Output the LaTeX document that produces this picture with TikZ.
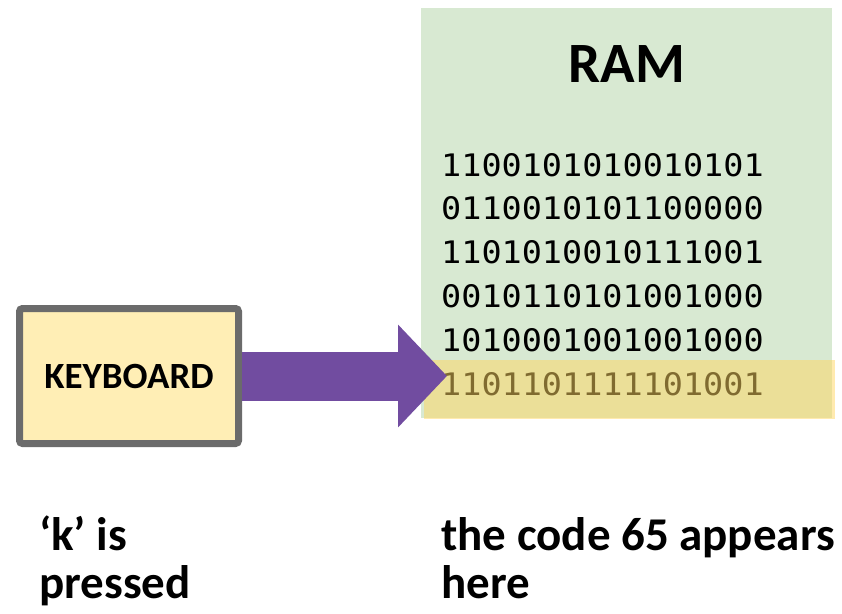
\documentclass[tikz,border=0pt]{standalone}
\usepackage{fontspec}
\setmainfont{Carlito}
\newfontfamily\binfont[FakeStretch=1.08]{DejaVu Sans Mono}
\usetikzlibrary{arrows.meta}
\definecolor{ramgreen}{HTML}{D8E9D2}
\definecolor{hiyellow}{HTML}{FFD660}
\definecolor{kbfill}{HTML}{FFEEB5}
\definecolor{kbborder}{HTML}{6B6B6B}
\definecolor{arrowpurple}{HTML}{714CA0}
\tikzset{
  binline/.style={anchor=base west, inner sep=0pt, font=\binfont\fontsize{31}{31}\selectfont},
  caption/.style={anchor=base west, inner sep=0pt, font=\bfseries\fontsize{47}{47}\selectfont},
}
\begin{document}
\begin{tikzpicture}[x=1pt,y=-1pt]
\useasboundingbox (0,0) rectangle (842,613);
% RAM box
\path[fill=ramgreen] (421,8) rectangle (832,418);
\node[anchor=base, inner sep=0pt, font=\bfseries\fontsize{57}{57}\selectfont] (ram) at (627,82) {RAM};
\node[binline] (b1) at (441,176) {1100101010010101};
\node[binline] (b2) at (441,219.8) {0110010101100000};
\node[binline] (b3) at (441,263.6) {1101010010111001};
\node[binline] (b4) at (441,307.4) {0010110101001000};
\node[binline] (b5) at (441,351.2) {1010001001001000};
\node[binline] (b6) at (441,395) {1101101111101001};
% highlight
\path[fill=hiyellow, fill opacity=0.5] (424,360) rectangle (835,419);
% keyboard
\node[draw=kbborder, line width=7pt, fill=kbfill, rounded corners=3pt,
      minimum width=219pt, minimum height=135pt, inner sep=0pt,
      font=\bfseries\fontsize{37}{37}\selectfont] (kb) at (129,376) {KEYBOARD};
\coordinate (tip) at (447,376);
\draw[arrowpurple, line width=49pt, -{Triangle[length=49pt,width=100pt]}] (kb.east) -- (tip);
% captions
\node[caption] (c1) at (39,550) {‘k’ is};
\node[caption] (c2) at (39,598) {pressed};
\node[caption] (c3) at (441,550) {the code 65 appears};
\node[caption] (c4) at (441,598) {here};
\end{tikzpicture}
\end{document}
